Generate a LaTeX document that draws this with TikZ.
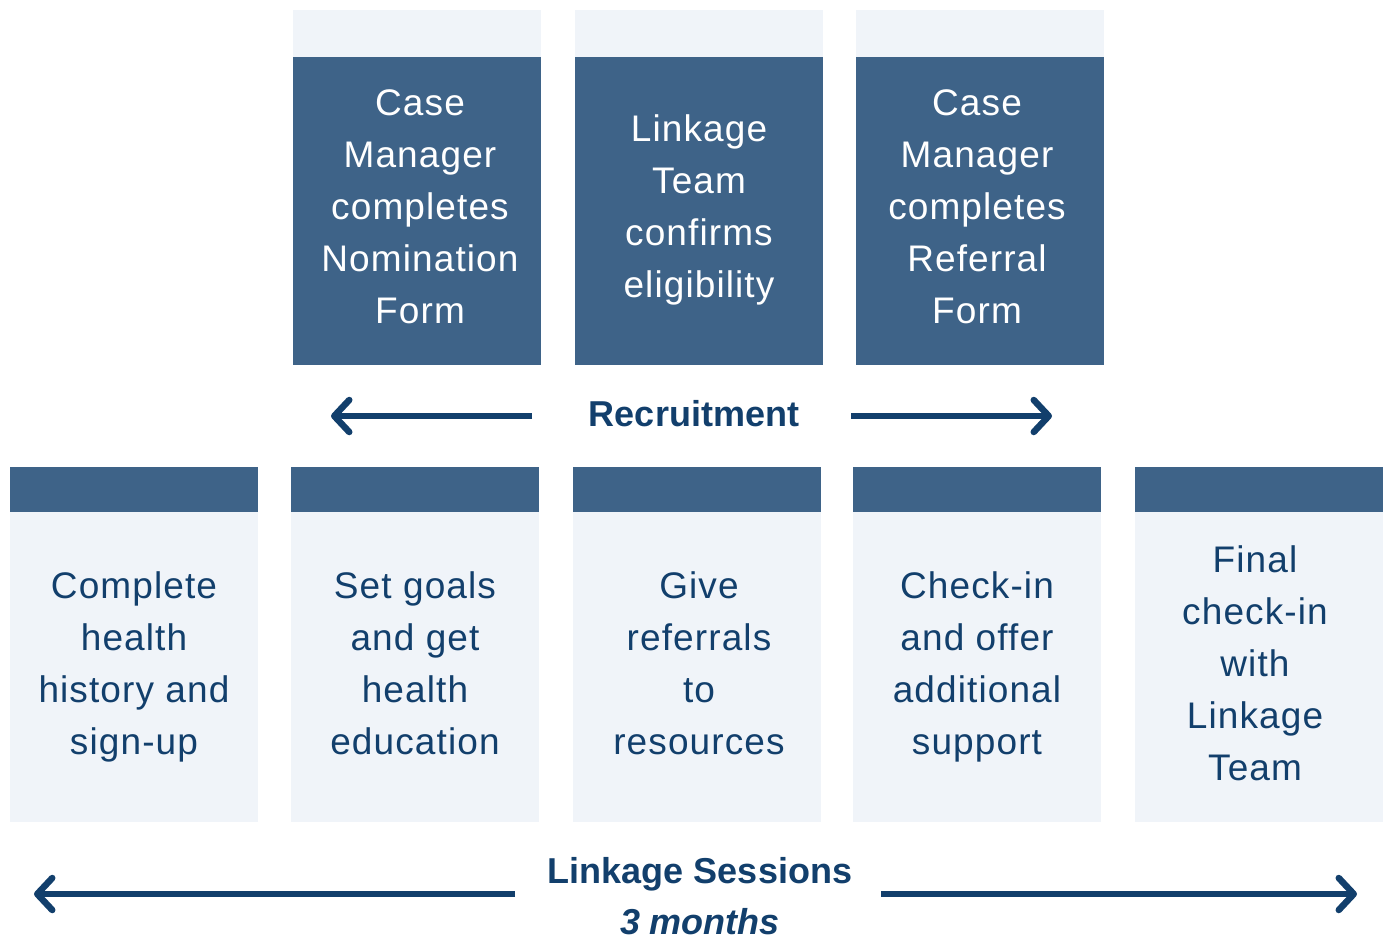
\documentclass[tikz,border=0pt]{standalone}
\usepackage{fontspec}
\setmainfont{Liberation Sans}
\newfontfamily\stepfont[LetterSpace=3]{Liberation Sans}
\usepackage{tikz}
\usetikzlibrary{arrows.meta,positioning,calc}

\definecolor{steelblue}{HTML}{3E6388}
\definecolor{paleblue}{HTML}{F0F4F9}
\definecolor{navy}{HTML}{123F6C}

\tikzset{
  steptext/.style={inner sep=0pt, align=center, font=\stepfont\fontsize{37}{52}\selectfont,
    execute at begin node=\strut, execute at end node=\strut},
  darkbox/.style={fill=steelblue, minimum width=248pt, minimum height=308pt, inner sep=0pt},
  lightbox/.style={fill=paleblue, minimum width=248pt, minimum height=310pt, inner sep=0pt},
  topstrip/.style={fill=paleblue, minimum width=248pt, minimum height=47pt, inner sep=0pt},
  bottomstrip/.style={fill=steelblue, minimum width=248pt, minimum height=45pt, inner sep=0pt},
  phase/.style={text=navy, font=\bfseries\fontsize{36}{51}\selectfont, align=center},
  timeline/.style={navy, line width=6pt,
    -{Straight Barb[length=15pt, width=32pt, line width=6.5pt, round]}},
}

\begin{document}
\begin{tikzpicture}[x=1pt, y=-1pt]
	\useasboundingbox (0, 0) rectangle (1383, 940);

	% recruitment steps
	\node[darkbox] (nom) at (417, 211) {};
	\node[darkbox] (elig) at (699, 211) {};
	\node[darkbox] (ref) at (980, 211) {};
	\node[topstrip, above=0pt of nom] (nomtop) {};
	\node[topstrip, above=0pt of elig] (eligtop) {};
	\node[topstrip, above=0pt of ref] (reftop) {};
	\node[steptext, text=white] (nomtext) at ([xshift=3pt, yshift=-3pt]nom) {Case\\Manager\\completes\\Nomination\\Form};
	\node[steptext, text=white] (eligtext) at ([yshift=-3pt]elig) {Linkage\\Team\\confirms\\eligibility};
	\node[steptext, text=white] (reftext) at ([xshift=-3pt, yshift=-3pt]ref) {Case\\Manager\\completes\\Referral\\Form};

	\node[phase] (recruit) at (694, 414) {Recruitment};
	\coordinate (recla) at (532, 416);
	\coordinate (reclb) at (331, 416);
	\coordinate (recra) at (851, 416);
	\coordinate (recrb) at (1052, 416);
	\draw[timeline] (recla) -- (reclb);
	\draw[timeline] (recra) -- (recrb);

	% linkage sessions
	\node[lightbox] (s1) at (134, 667) {};
	\node[lightbox] (s2) at (415, 667) {};
	\node[lightbox] (s3) at (697, 667) {};
	\node[lightbox] (s4) at (977, 667) {};
	\node[lightbox] (s5) at (1259, 667) {};
	\foreach \s in {s1,s2,s3,s4,s5}
		\node[bottomstrip, above=0pt of \s] (\s top) {};
	\node[steptext, text=navy] (t1) at ([yshift=-4pt]s1) {Complete\\health\\history and\\sign-up};
	\node[steptext, text=navy] (t2) at ([yshift=-4pt]s2) {Set goals\\and get\\health\\education};
	\node[steptext, text=navy] (t3) at ([xshift=2pt, yshift=-4pt]s3) {Give\\referrals\\to\\resources};
	\node[steptext, text=navy] (t4) at ([yshift=-4pt]s4) {Check-in\\and offer\\additional\\support};
	\node[steptext, text=navy] (t5) at ([xshift=-4pt, yshift=-4pt]s5) {Final\\check-in\\with\\Linkage\\Team};

	\node[phase] (sessions) at (700, 896) {Linkage Sessions\\\textit{3 months}};
	\coordinate (sesla) at (515, 894);
	\coordinate (seslb) at (34, 894);
	\coordinate (sesra) at (881, 894);
	\coordinate (sesrb) at (1357, 894);
	\draw[timeline] (sesla) -- (seslb);
	\draw[timeline] (sesra) -- (sesrb);

\end{tikzpicture}
\end{document}
